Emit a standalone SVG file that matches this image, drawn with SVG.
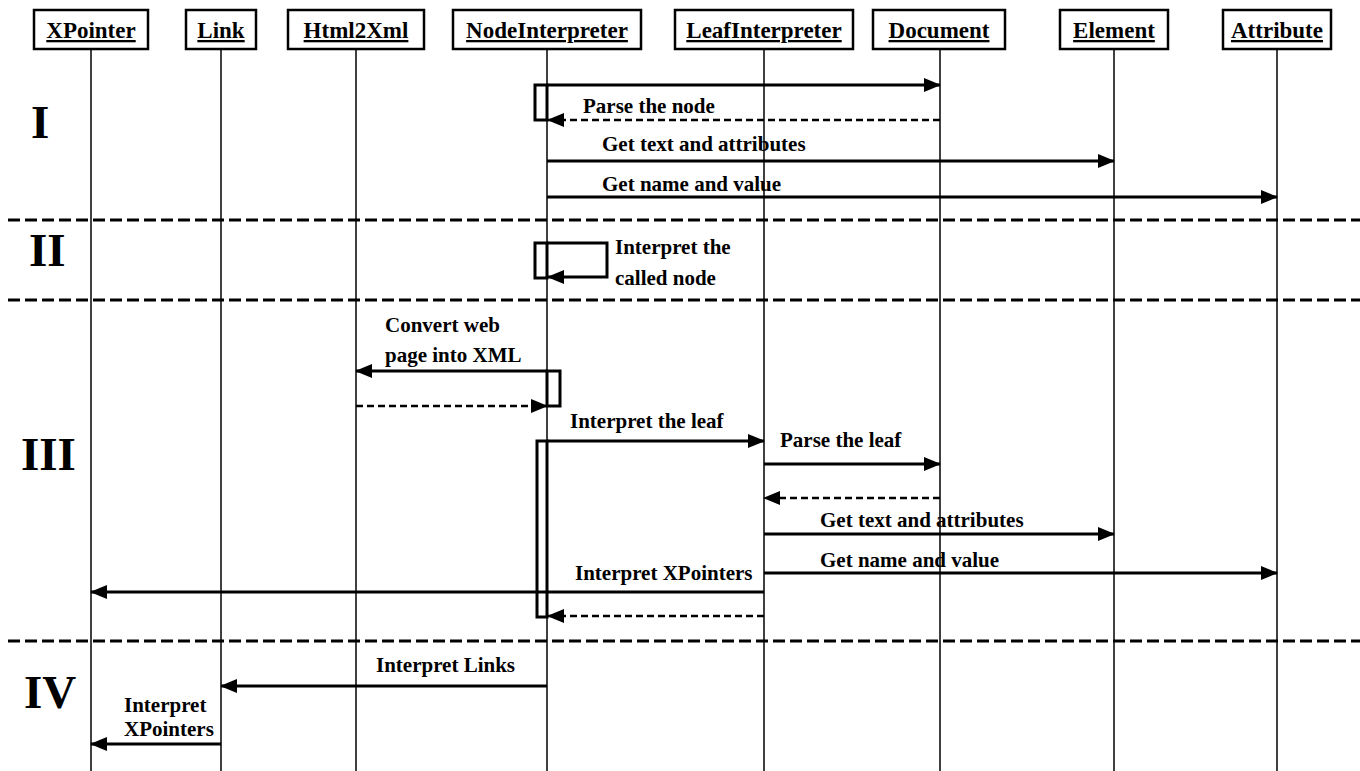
<svg xmlns="http://www.w3.org/2000/svg" width="1360" height="771" viewBox="0 0 1360 771">
  <style>
    .hdr { fill: #fff; stroke: #000; stroke-width: 2.5; }
    .hdr-t { font-family: "Liberation Serif", "Times New Roman", serif; font-weight: bold; font-size: 23px; text-anchor: middle; text-decoration: underline; fill: #000; }
    .life { stroke: #000; stroke-width: 1.5; fill: none; }
    .msg { stroke: #000; stroke-width: 3; fill: none; }
    .ret { stroke: #000; stroke-width: 2.5; fill: none; stroke-dasharray: 7 4; }
    .act { fill: #fff; stroke: #000; stroke-width: 3; }
    .sep { stroke: #000; stroke-width: 3; stroke-dasharray: 12 5; fill: none; }
    .lbl { font-family: "Liberation Serif", "Times New Roman", serif; font-weight: bold; font-size: 21px; fill: #000; }
    .num { font-family: "Liberation Serif", "Times New Roman", serif; font-weight: bold; font-size: 47px; fill: #000; }
  </style>
  <defs>
    <marker id="arrow" markerUnits="userSpaceOnUse" markerWidth="17" markerHeight="14" refX="16" refY="7" orient="auto">
      <path d="M0,0 L17,7 L0,14 z" fill="#000"/>
    </marker>
  </defs>

  <rect width="1360" height="771" fill="#fff"/>

  <!-- section separators -->
  <g id="separators">
    <line class="sep" x1="8" y1="220" x2="1360" y2="220"/>
    <line class="sep" x1="8" y1="300" x2="1360" y2="300"/>
    <line class="sep" x1="8" y1="641" x2="1360" y2="641"/>
  </g>

  <!-- section numerals -->
  <g id="numerals">
    <text class="num" x="31" y="138">I</text>
    <text class="num" x="29" y="266">II</text>
    <text class="num" x="21" y="470">III</text>
    <text class="num" x="24" y="708" font-weight="normal">IV</text>
  </g>

  <!-- lifelines -->
  <g id="lifelines">
    <line class="life" x1="91" y1="49" x2="91" y2="771"/>
    <line class="life" x1="221" y1="49" x2="221" y2="771"/>
    <line class="life" x1="356" y1="49" x2="356" y2="771"/>
    <line class="life" x1="547" y1="49" x2="547" y2="771"/>
    <line class="life" x1="764" y1="49" x2="764" y2="771"/>
    <line class="life" x1="940" y1="49" x2="940" y2="771"/>
    <line class="life" x1="1114" y1="49" x2="1114" y2="771"/>
    <line class="life" x1="1277" y1="49" x2="1277" y2="771"/>
  </g>

  <!-- object headers -->
  <g id="XPointer"><rect class="hdr" x="34" y="10" width="114" height="39"/><text class="hdr-t" x="91" y="38">XPointer</text></g>
  <g id="Link"><rect class="hdr" x="186" y="10" width="70" height="39"/><text class="hdr-t" x="221" y="38">Link</text></g>
  <g id="Html2Xml"><rect class="hdr" x="288" y="10" width="136" height="39"/><text class="hdr-t" x="356" y="38">Html2Xml</text></g>
  <g id="NodeInterpreter"><rect class="hdr" x="453" y="10" width="188" height="39"/><text class="hdr-t" x="547" y="38">NodeInterpreter</text></g>
  <g id="LeafInterpreter"><rect class="hdr" x="675" y="10" width="178" height="39"/><text class="hdr-t" x="764" y="38">LeafInterpreter</text></g>
  <g id="Document"><rect class="hdr" x="873" y="10" width="132" height="39"/><text class="hdr-t" x="939" y="38">Document</text></g>
  <g id="Element"><rect class="hdr" x="1060" y="10" width="108" height="39"/><text class="hdr-t" x="1114" y="38">Element</text></g>
  <g id="Attribute"><rect class="hdr" x="1223" y="10" width="108" height="39"/><text class="hdr-t" x="1277" y="38">Attribute</text></g>

  <!-- activation bars -->
  <g id="activations">
    <rect class="act" x="535" y="85" width="12" height="35"/>
    <rect class="act" x="535" y="243" width="12" height="35"/>
    <rect class="act" x="547" y="371" width="13" height="35"/>
    <rect class="act" x="537" y="441" width="10" height="176"/>
  </g>

  <!-- messages -->
  <g id="connectors">
    <!-- I -->
    <line class="msg" x1="547" y1="85" x2="940" y2="85" marker-end="url(#arrow)"/>
    <line class="ret" x1="940" y1="120" x2="548" y2="120" marker-end="url(#arrow)"/>
    <line class="msg" x1="547" y1="161" x2="1114" y2="161" marker-end="url(#arrow)"/>
    <line class="msg" x1="547" y1="197" x2="1277" y2="197" marker-end="url(#arrow)"/>
    <!-- II -->
    <path class="msg" d="M547,243 H607 V277 H548" marker-end="url(#arrow)"/>
    <!-- III -->
    <line class="msg" x1="547" y1="371" x2="356" y2="371" marker-end="url(#arrow)"/>
    <line class="ret" x1="356" y1="406" x2="547" y2="406" marker-end="url(#arrow)"/>
    <line class="msg" x1="547" y1="441" x2="764" y2="441" marker-end="url(#arrow)"/>
    <line class="msg" x1="764" y1="464" x2="940" y2="464" marker-end="url(#arrow)"/>
    <line class="ret" x1="940" y1="498" x2="764" y2="498" marker-end="url(#arrow)"/>
    <line class="msg" x1="764" y1="534" x2="1114" y2="534" marker-end="url(#arrow)"/>
    <line class="msg" x1="764" y1="573" x2="1277" y2="573" marker-end="url(#arrow)"/>
    <line class="msg" x1="764" y1="592" x2="91" y2="592" marker-end="url(#arrow)"/>
    <line class="ret" x1="764" y1="616" x2="548" y2="616" marker-end="url(#arrow)"/>
    <!-- IV -->
    <line class="msg" x1="547" y1="686" x2="221" y2="686" marker-end="url(#arrow)"/>
    <line class="msg" x1="221" y1="744" x2="91" y2="744" marker-end="url(#arrow)"/>
  </g>

  <!-- message labels -->
  <g id="labels">
    <text class="lbl" x="583" y="113">Parse the node</text>
    <text class="lbl" x="602" y="151">Get text and attributes</text>
    <text class="lbl" x="602" y="191">Get name and value</text>
    <text class="lbl" x="615" y="254">Interpret the</text>
    <text class="lbl" x="615" y="285">called node</text>
    <text class="lbl" x="385" y="332">Convert web</text>
    <text class="lbl" x="385" y="362">page into XML</text>
    <text class="lbl" x="570" y="428">Interpret the leaf</text>
    <text class="lbl" x="780" y="447">Parse the leaf</text>
    <text class="lbl" x="820" y="527">Get text and attributes</text>
    <text class="lbl" x="820" y="567">Get name and value</text>
    <text class="lbl" x="575" y="580">Interpret XPointers</text>
    <text class="lbl" x="376" y="672">Interpret Links</text>
    <text class="lbl" x="124" y="712">Interpret</text>
    <text class="lbl" x="124" y="736">XPointers</text>
  </g>
</svg>
